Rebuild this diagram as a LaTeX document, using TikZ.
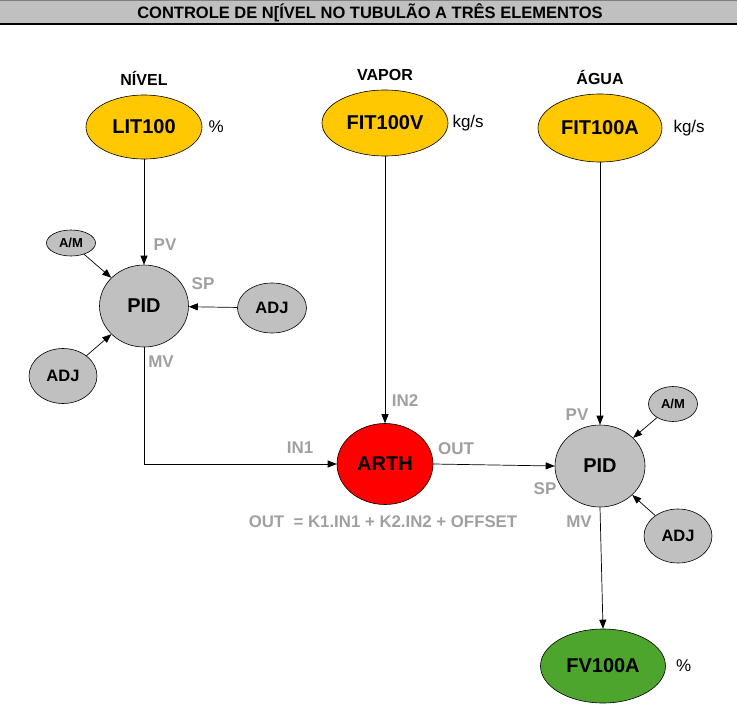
\documentclass[tikz,border=0pt]{standalone}
\usepackage{fontspec}
\setmainfont{Liberation Sans}
\usetikzlibrary{shapes.geometric,arrows.meta,positioning}

\definecolor{tagyellow}{RGB}{255,200,0}
\definecolor{pidgray}{RGB}{192,192,192}
\definecolor{arthred}{RGB}{255,0,0}
\definecolor{valvegreen}{RGB}{78,165,46}
\definecolor{labelgray}{RGB}{160,160,160}

\begin{document}
\begin{tikzpicture}[
                    x=1pt, y=-1pt,
                    blob/.style={draw, ellipse, inner sep=0pt, line width=0.6pt, font=\fontsize{20}{22}\selectfont\bfseries},
                    sensor/.style={blob, fill=tagyellow},
                    pid/.style={blob, fill=pidgray, minimum width=89pt, minimum height=82pt},
                    aux/.style={blob, fill=pidgray, font=\fontsize{16.5}{18}\selectfont\bfseries},
                    head/.style={font=\fontsize{16}{18}\selectfont\bfseries, inner sep=1pt},
                    unit/.style={font=\fontsize{17}{19}\selectfont, inner sep=1pt},
                    sig/.style={font=\fontsize{17}{19}\selectfont\bfseries, text=labelgray, inner sep=1pt},
                    link/.style={line width=0.7pt, -{Triangle[length=9pt, width=7pt]}}
                ]
                    \useasboundingbox (0,0) rectangle (737,715);
                    \fill[pidgray] (0,0) rectangle (737,24);
                    \draw[gray, line width=0.8pt] (0,0.5) -- (737,0.5);
                    \draw[line width=1.6pt] (0,24) -- (737,24);
                    \node[head, font=\fontsize{16.5}{18}\selectfont\bfseries] (title) at (370,13) {CONTROLE DE N[ÍVEL NO TUBULÃO A TRÊS ELEMENTOS};

                    % transmissores
                    \node[sensor, minimum width=116pt, minimum height=64pt] (lit) at (144,127) {LIT100};
                    \node[sensor, minimum width=126pt, minimum height=66pt] (fitv) at (385,123) {FIT100V};
                    \node[sensor, minimum width=124pt, minimum height=68pt] (fita) at (600,128) {FIT100A};
                    \node[head, above=8pt of lit] (nivel) {NÍVEL};
                    \node[head, above=8pt of fitv] (vapor) {VAPOR};
                    \node[head, above=8pt of fita] (agua) {ÁGUA};
                    \node[unit, right=5pt of lit] (litunit) {\%};
                    \node[unit, right=3pt of fitv] (fitvunit) {kg/s};
                    \node[unit, right=10pt of fita] (fitaunit) {kg/s};

                    % controladores
                    \node[pid] (pidL) at (144,306) {PID};
                    \node[aux, minimum width=49pt, minimum height=26pt, font=\fontsize{13}{15}\selectfont\bfseries] (amL) at (71,243) {A/M};
                    \node[aux, minimum width=69pt, minimum height=50pt] (adjR) at (272,308) {ADJ};
                    \node[aux, minimum width=68pt, minimum height=55pt] (adjL) at (63,376) {ADJ};
                    \node[blob, fill=arthred, minimum width=96pt, minimum height=81pt] (arth) at (385,464) {ARTH};
                    \node[pid, minimum width=90pt] (pidR) at (600,466) {PID};
                    \node[aux, minimum width=49pt, minimum height=35pt, font=\fontsize{13}{15}\selectfont\bfseries] (amR) at (673,404) {A/M};
                    \node[aux, minimum width=68pt, minimum height=54pt] (adjB) at (678,536) {ADJ};
                    \node[blob, fill=valvegreen, minimum width=125pt, minimum height=74pt] (fv) at (603,666) {FV100A};
                    \node[unit, right=9pt of fv] (fvunit) {\%};

                    % sinais
                    \node[sig] (pvL) at (165,245) {PV};
                    \node[sig] (spL) at (203,284) {SP};
                    \node[sig] (mvL) at (161,362) {MV};
                    \node[sig] (in1) at (300,448) {IN1};
                    \node[sig] (in2) at (405,401) {IN2};
                    \node[sig] (out) at (456,449) {OUT};
                    \node[sig] (pvR) at (577,415) {PV};
                    \node[sig] (spR) at (545,489) {SP};
                    \node[sig] (mvR) at (579,522) {MV};
                    \node[sig, font=\fontsize{16.8}{19}\selectfont\bfseries] (formula) at (383,522) {OUT \ = K1.IN1 + K2.IN2 + OFFSET};

                    \draw[link] (lit) -- (pidL);
                    \draw[link] (amL) -- (pidL);
                    \draw[link] (adjL) -- (pidL);
                    \draw[link] (adjR) -- (pidL);
                    \draw[link] (pidL.south) |- (arth.west);
                    \draw[link] (fitv) -- (arth);
                    \draw[link] (arth.east) -- (pidR.west);
                    \draw[link] (fita) -- (pidR);
                    \draw[link] (amR) -- (pidR);
                    \draw[link] (adjB) -- (pidR);
                    \draw[link] (pidR.south) -- (fv.north);
                \end{tikzpicture}
\end{document}
